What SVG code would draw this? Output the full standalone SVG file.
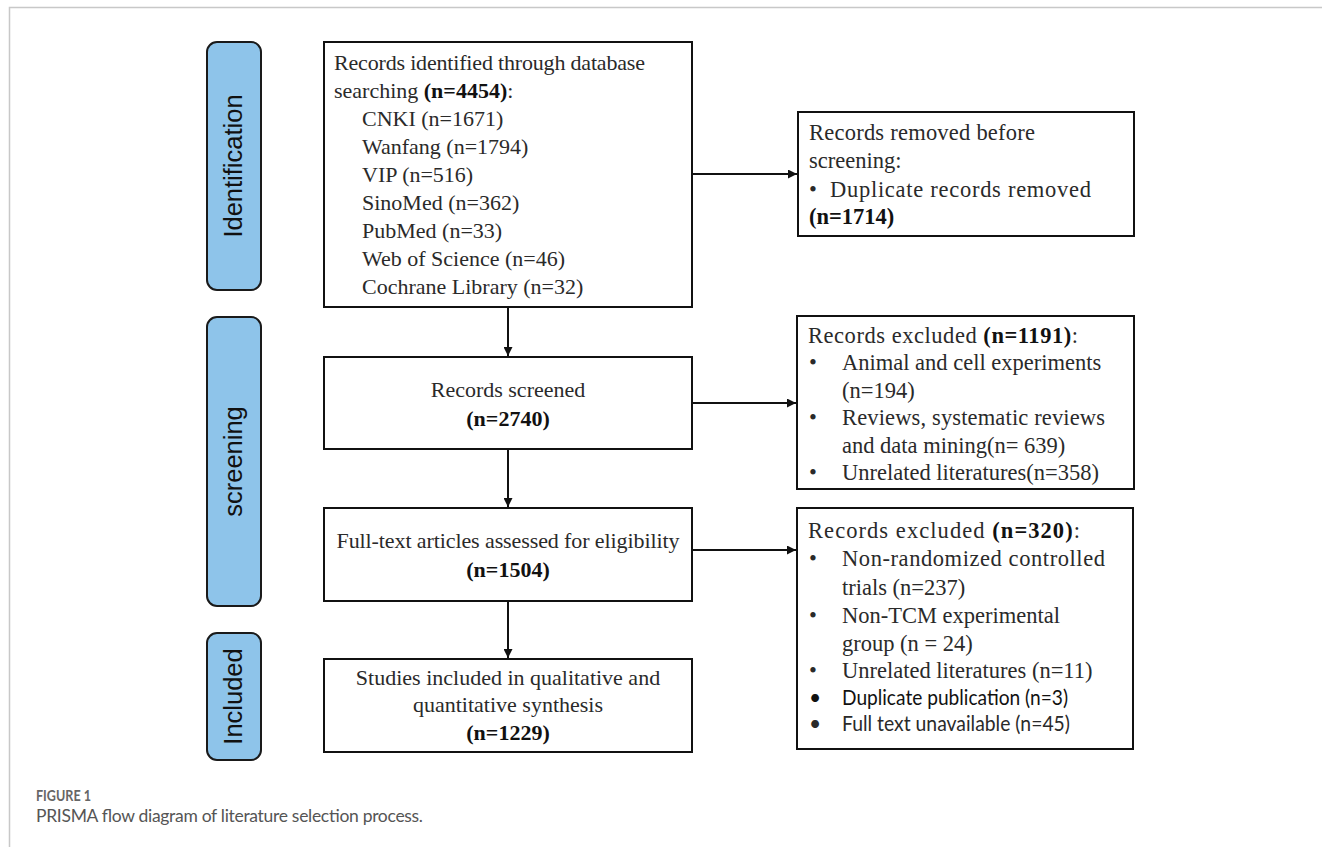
<svg xmlns="http://www.w3.org/2000/svg" width="1322" height="847" viewBox="0 0 1322 847">
<style>
.frame{stroke:#c8c8c8;stroke-width:1.5;fill:none}
.pill{fill:#8ec4ea;stroke:#1a1a1a;stroke-width:2}
.pl{font-family:"Liberation Sans",Arial,sans-serif;font-size:25.5px;fill:#111;text-anchor:middle}
.box{fill:#fff;stroke:#111;stroke-width:2}
.t{font-family:"Liberation Serif","Times New Roman",serif;font-size:22px;fill:#2a2a2a}
.r{font-family:"Liberation Serif","Times New Roman",serif;font-size:22.5px;fill:#2a2a2a}
.c{text-anchor:middle}
.b{font-weight:bold;fill:#111}
.s{font-family:Lato,"Open Sans",sans-serif;font-size:21px;fill:#2a2a2a}
.sd{fill:#111}
.edge{stroke:#111;stroke-width:2;fill:none}
.cap1{font-family:Lato,"Open Sans",sans-serif;font-size:15px;font-weight:bold;fill:#666}
.cap2{font-family:Lato,"Open Sans",sans-serif;font-size:17.5px;fill:#555}
</style>
<defs>
<marker id="ah" viewBox="0 0 10 10" refX="10" refY="5" markerWidth="4.5" markerHeight="4.5" orient="auto" markerUnits="strokeWidth">
<path d="M0,0 L10,5 L0,10 z" fill="#111"/>
</marker>
</defs>
<rect width="1322" height="847" fill="#fff"/>
<path class="frame" d="M9.5,847 V7.5 H1322"/>

<g id="phase-identification">
<rect class="pill" x="207" y="42" width="54" height="248" rx="10"/>
<text class="pl" transform="translate(242,166) rotate(-90)">Identification</text>
</g>
<g id="phase-screening">
<rect class="pill" x="207" y="317" width="54" height="289" rx="10"/>
<text class="pl" transform="translate(242,461.5) rotate(-90)">screening</text>
</g>
<g id="phase-included">
<rect class="pill" x="207" y="633" width="54" height="127" rx="10"/>
<text class="pl" transform="translate(242,696.5) rotate(-90)">Included</text>
</g>

<g id="connectors">
<line class="edge" x1="692" y1="174" x2="797" y2="174" marker-end="url(#ah)"/>
<line class="edge" x1="508" y1="307" x2="508" y2="356" marker-end="url(#ah)"/>
<line class="edge" x1="692" y1="403" x2="796" y2="403" marker-end="url(#ah)"/>
<line class="edge" x1="508" y1="449" x2="508" y2="507" marker-end="url(#ah)"/>
<line class="edge" x1="692" y1="550" x2="796" y2="550" marker-end="url(#ah)"/>
<line class="edge" x1="508" y1="601" x2="508" y2="658" marker-end="url(#ah)"/>
</g>

<g id="node-identified">
<rect class="box" x="324" y="42" width="368" height="265"/>
<text class="t" x="334" y="70" textLength="311">Records identified through database</text>
<text class="t" x="334" y="98">searching <tspan class="b">(n=4454)</tspan>:</text>
<text class="t" x="362" y="126">CNKI (n=1671)</text>
<text class="t" x="362" y="154">Wanfang (n=1794)</text>
<text class="t" x="362" y="182">VIP (n=516)</text>
<text class="t" x="362" y="210">SinoMed (n=362)</text>
<text class="t" x="362" y="238">PubMed (n=33)</text>
<text class="t" x="362" y="266">Web of Science (n=46)</text>
<text class="t" x="362" y="294">Cochrane Library (n=32)</text>
</g>

<g id="node-removed">
<rect class="box" x="798" y="112" width="336" height="124"/>
<text class="r" x="809" y="140" textLength="226">Records removed before</text>
<text class="r" x="809" y="168">screening:</text>
<text class="r" x="809" y="197">•</text>
<text class="r" x="830" y="197" textLength="261">Duplicate records removed</text>
<text class="r b" x="809" y="224">(n=1714)</text>
</g>

<g id="node-screened">
<rect class="box" x="324" y="357" width="368" height="92"/>
<text class="t c" x="508" y="397">Records screened</text>
<text class="t c b" x="508" y="426">(n=2740)</text>
</g>

<g id="node-excluded1">
<rect class="box" x="797" y="316" width="337" height="173"/>
<text class="r" x="808" y="343" textLength="270">Records excluded <tspan class="b">(n=1191)</tspan>:</text>
<text class="r" x="809" y="370">•</text>
<text class="r" x="842" y="370">Animal and cell experiments</text>
<text class="r" x="842" y="398">(n=194)</text>
<text class="r" x="809" y="425">•</text>
<text class="r" x="842" y="425" textLength="263">Reviews, systematic reviews</text>
<text class="r" x="842" y="453">and data mining(n= 639)</text>
<text class="r" x="809" y="480">•</text>
<text class="r" x="842" y="480">Unrelated literatures(n=358)</text>
</g>

<g id="node-fulltext">
<rect class="box" x="324" y="508" width="368" height="93"/>
<text class="t c" x="508" y="548" textLength="343">Full-text articles assessed for eligibility</text>
<text class="t c b" x="508" y="577">(n=1504)</text>
</g>

<g id="node-excluded2">
<rect class="box" x="797" y="508" width="336" height="241"/>
<text class="r" x="808" y="538" textLength="272">Records excluded <tspan class="b">(n=320)</tspan>:</text>
<text class="r" x="809" y="566">•</text>
<text class="r" x="842" y="566" textLength="263">Non-randomized controlled</text>
<text class="r" x="842" y="595">trials (n=237)</text>
<text class="r" x="809" y="623">•</text>
<text class="r" x="842" y="623">Non-TCM experimental</text>
<text class="r" x="842" y="651">group (n = 24)</text>
<text class="r" x="809" y="678">•</text>
<text class="r" x="842" y="678">Unrelated literatures (n=11)</text>
<text class="s sd" x="809" y="705">•</text>
<text class="s sd" x="842" y="705" textLength="226" lengthAdjust="spacingAndGlyphs">Duplicate publication (n=3)</text>
<text class="s" x="809" y="731">•</text>
<text class="s" x="842" y="731" textLength="228" lengthAdjust="spacingAndGlyphs">Full text unavailable (n=45)</text>
</g>

<g id="node-included">
<rect class="box" x="324" y="659" width="368" height="93"/>
<text class="t c" x="508" y="685">Studies included in qualitative and</text>
<text class="t c" x="508" y="712">quantitative synthesis</text>
<text class="t c b" x="508" y="740">(n=1229)</text>
</g>

<g id="caption">
<text class="cap1" x="36" y="801" textLength="55" lengthAdjust="spacingAndGlyphs">FIGURE 1</text>
<text class="cap2" x="36" y="822" textLength="387">PRISMA flow diagram of literature selection process.</text>
</g>
</svg>
